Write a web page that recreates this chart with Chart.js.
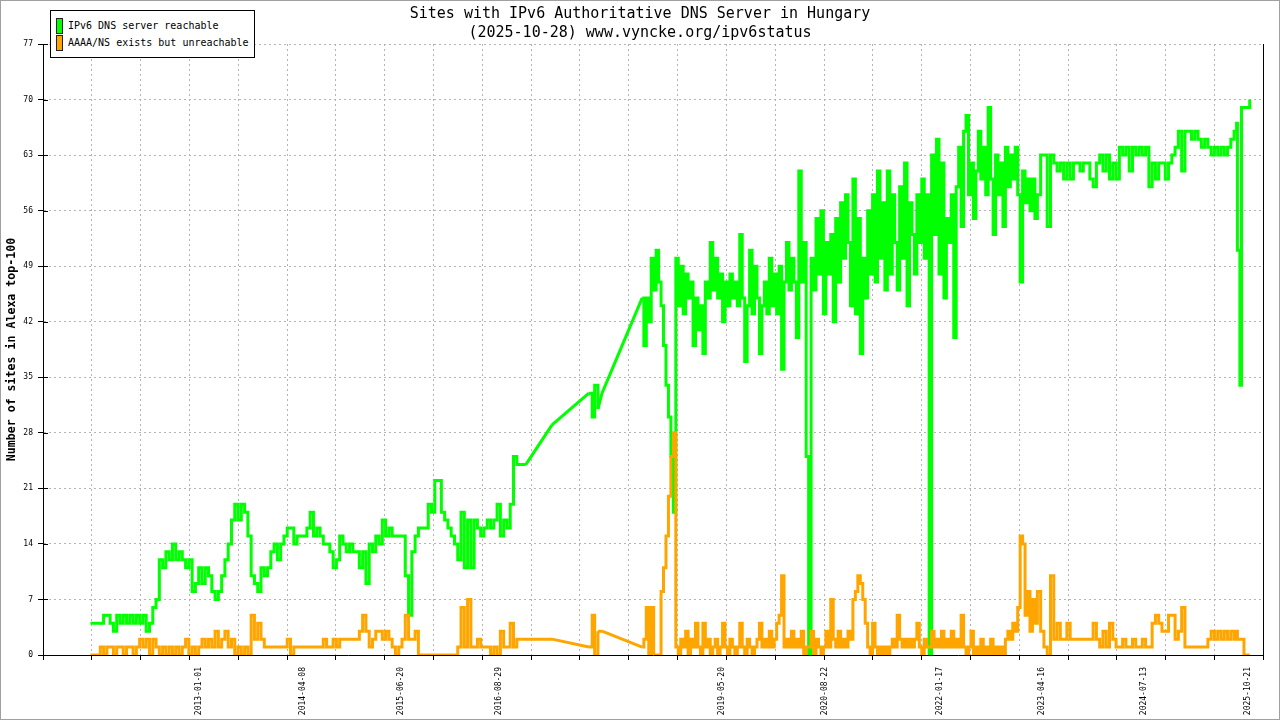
<!DOCTYPE html>
<html>
<head>
<meta charset="utf-8">
<script src="https://cdn.jsdelivr.net/npm/chart.js@4/dist/chart.umd.min.js"></script>
<style>
  body { margin: 0; background: #fff; }
  #wrap { position: relative; width: 1280px; height: 720px; }
  #legend {
    position: absolute; left: 50px; top: 10px; width: 203px; height: 46px;
    border: 1px solid #000; background: #fff;
    font: 10px "DejaVu Sans Mono", monospace; color: #000;
  }
  .item { position: absolute; left: 5px; height: 15px; }
  .swatch { position: absolute; left: 0; top: 0; width: 5px; height: 14px; border: 1px solid #222; }
  .label { position: absolute; left: 12px; top: 1px; line-height: 14px; white-space: nowrap; }
</style>
</head>
<body>
<div id="wrap">
  <canvas id="dnsChart" width="1280" height="720"></canvas>
  <div id="legend"></div>
</div>
<script>
// fecha en años decimales (una muestra cada pocos días)
const years = [
  2011.68,2011.72,2011.76,2011.80,2011.84,2011.88,2011.92,2011.96,2012.00,2012.04,
  2012.08,2012.12,2012.16,2012.20,2012.24,2012.28,2012.32,2012.36,2012.40,2012.44,
  2012.48,2012.52,2012.56,2012.60,2012.64,2012.68,2012.72,2012.76,2012.80,2012.84,
  2012.88,2012.92,2012.96,2013.00,2013.04,2013.08,2013.12,2013.16,2013.20,2013.24,
  2013.28,2013.32,2013.36,2013.40,2013.44,2013.48,2013.52,2013.56,2013.60,2013.64,
  2013.68,2013.72,2013.76,2013.80,2013.84,2013.88,2013.92,2013.96,2014.00,2014.04,
  2014.08,2014.12,2014.16,2014.20,2014.24,2014.28,2014.32,2014.36,2014.40,2014.44,
  2014.48,2014.52,2014.56,2014.60,2014.64,2014.68,2014.72,2014.76,2014.80,2014.84,
  2014.88,2014.92,2014.96,2015.00,2015.04,2015.08,2015.12,2015.16,2015.20,2015.24,
  2015.28,2015.32,2015.36,2015.40,2015.44,2015.48,2015.52,2015.56,2015.60,2015.64,
  2015.68,2015.72,2015.76,2015.80,2015.84,2015.88,2015.92,2015.96,2016.00,2016.04,
  2016.08,2016.12,2016.16,2016.20,2016.24,2016.28,2016.32,2016.36,2016.40,2016.44,
  2016.48,2016.52,2016.56,2016.60,2016.64,2016.68,2016.72,2016.76,2016.80,2016.84,
  2016.88,2016.92,
  2016.99,2017.31,2017.76,2017.80,2017.83,2017.87,2017.92,2018.41,
  2018.43,2018.46,2018.49,2018.52,2018.55,2018.58,2018.61,2018.64,2018.67,2018.70,
  2018.73,2018.76,2018.79,2018.82,2018.85,2018.88,2018.91,2018.94,2018.97,2019.00,
  2019.03,2019.06,2019.09,2019.12,2019.15,2019.18,2019.21,2019.24,2019.27,2019.30,
  2019.33,2019.36,2019.39,2019.42,2019.45,2019.48,2019.51,2019.54,2019.57,2019.60,
  2019.63,2019.66,2019.69,2019.72,2019.75,2019.78,2019.81,2019.84,2019.87,2019.90,
  2019.93,2019.96,2019.99,2020.02,2020.05,2020.08,2020.11,2020.14,2020.17,2020.20,
  2020.23,2020.26,2020.29,2020.32,2020.35,2020.38,2020.41,2020.44,2020.47,2020.50,
  2020.53,2020.56,2020.59,2020.62,2020.65,2020.68,2020.71,2020.74,2020.77,2020.80,
  2020.83,2020.86,2020.89,2020.92,2020.95,2020.98,2021.01,2021.04,2021.07,2021.10,
  2021.13,2021.16,2021.19,2021.22,2021.25,2021.28,2021.31,2021.34,2021.37,2021.40,
  2021.43,2021.46,2021.49,2021.52,2021.55,2021.58,2021.61,2021.64,2021.67,2021.70,
  2021.73,2021.76,2021.79,2021.82,2021.85,2021.88,2021.91,2021.94,2021.97,2022.00,
  2022.03,2022.06,2022.09,2022.12,2022.15,2022.18,2022.21,2022.24,2022.27,2022.30,
  2022.33,2022.36,2022.39,2022.42,2022.45,2022.48,2022.51,2022.54,2022.57,2022.60,
  2022.63,2022.66,2022.69,2022.72,2022.75,2022.78,2022.81,2022.84,2022.87,2022.90,
  2022.93,2022.96,2022.99,2023.02,2023.05,2023.08,2023.11,2023.14,2023.17,2023.20,
  2023.23,
  2023.27,2023.31,2023.35,2023.39,2023.43,2023.47,2023.51,2023.55,2023.59,2023.63,
  2023.67,2023.71,2023.75,2023.79,2023.83,2023.87,2023.91,2023.95,2023.99,2024.03,
  2024.07,2024.11,2024.15,2024.19,2024.23,2024.27,2024.31,2024.35,2024.39,2024.43,
  2024.47,2024.51,2024.55,2024.59,2024.63,2024.67,2024.71,2024.75,2024.79,2024.83,
  2024.87,2024.91,2024.95,2024.99,2025.03,2025.07,2025.11,2025.15,2025.19,2025.23,
  2025.27,2025.31,2025.35,2025.39,2025.43,2025.47,2025.51,2025.55,2025.59,2025.63,
  2025.66,2025.67,2025.70,2025.72,2025.75,2025.78,2025.82
];

// "IPv6 DNS server reachable"
const reachable = [
  4,4,4,4,5,5,4,3,5,4,
  5,4,5,4,5,4,5,3,4,6,
  7,12,11,13,12,14,12,13,12,11,
  12,8,9,11,9,11,10,8,7,8,
  10,12,14,17,19,17,19,18,15,10,
  9,8,11,10,11,13,14,12,14,15,
  16,16,14,15,15,15,16,18,15,16,
  15,14,14,13,11,12,15,14,13,14,
  13,13,11,13,9,14,13,15,14,17,
  15,16,15,15,15,15,10,5,13,15,
  16,16,16,19,18,22,22,18,17,16,
  15,14,12,18,11,17,11,17,16,15,
  16,17,16,17,19,15,17,16,19,25,
  24,24,
  24,29,33,30,34,31,33,45,
  39,45,42,50,46,51,47,44,39,34,
  30,25,18,50,44,49,43,48,45,47,
  39,45,41,44,38,47,45,52,46,50,
  45,48,42,47,44,48,45,47,44,53,
  45,37,44,51,43,49,45,38,44,47,
  43,50,44,48,43,49,36,47,52,46,
  50,47,40,61,47,52,25,0,50,46,
  55,48,56,43,52,48,53,42,55,47,
  57,50,58,52,44,60,43,55,38,50,
  45,56,48,58,47,61,50,57,46,61,
  48,58,52,46,59,50,62,44,57,53,
  48,58,52,60,50,58,0,63,53,65,
  48,62,45,55,52,58,40,59,64,54,
  66,68,58,62,55,61,66,60,64,58,
  69,60,53,63,58,62,54,64,59,63,
  60,64,58,47,61,57,60,56,60,55,
  58,
  63,63,54,63,62,61,62,60,62,60,
  62,62,61,62,62,60,59,62,63,61,
  63,60,62,60,64,63,64,61,64,63,
  64,63,64,59,62,60,62,62,60,62,
  63,64,66,61,66,66,65,66,65,64,
  65,64,63,64,63,64,63,64,65,66,
  67,51,34,69,69,69,70
];

// "AAAA/NS exists but unreachable"
const unreachable = [
  0,0,0,1,0,1,1,0,1,1,
  0,1,1,0,1,2,1,2,0,2,
  1,0,1,0,1,0,1,0,1,2,
  0,1,0,1,2,1,2,1,3,1,
  2,3,1,2,0,1,0,1,0,5,
  2,4,2,1,1,1,1,1,1,1,
  2,0,1,1,1,1,1,1,1,1,
  1,2,1,1,2,1,2,2,2,2,
  2,2,3,5,3,1,2,3,3,2,
  3,2,1,0,1,2,5,2,2,3,
  0,0,0,0,0,0,0,0,0,0,
  0,0,1,6,1,7,1,1,2,1,
  1,1,0,1,0,3,1,1,4,1,
  2,2,
  2,2,1,5,0,3,3,1,
  2,6,0,6,0,0,0,8,11,15,
  20,25,28,1,0,2,1,3,0,2,
  1,4,1,0,4,1,2,0,1,2,
  0,1,4,1,0,2,1,0,1,4,
  1,0,2,1,0,1,2,4,1,2,
  1,3,1,2,4,5,10,1,2,1,
  3,1,2,1,3,0,1,1,3,0,
  2,1,0,1,3,1,7,2,1,3,
  1,2,1,3,2,7,8,10,9,7,
  4,1,0,4,1,0,1,0,1,0,
  1,2,1,5,2,1,2,1,2,1,
  2,4,1,0,2,1,1,3,1,2,
  1,3,1,2,1,3,1,2,1,5,
  1,0,1,3,0,1,0,2,0,1,
  0,2,0,1,0,1,0,2,3,2,
  4,3,6,15,14,5,8,3,7,4,
  8,
  3,1,0,10,2,4,2,2,4,2,
  2,2,2,2,2,2,4,2,1,3,
  1,4,2,1,1,2,1,1,2,1,
  1,2,1,1,4,5,4,3,3,5,
  5,2,3,6,1,1,1,1,1,1,
  1,2,3,2,3,2,3,2,3,2,
  3,2,2,2,0,0,0
];

const tickDates = ['2013-01-01', '2014-04-08', '2015-06-20', '2016-08-29', '2019-05-20',
                   '2020-08-22', '2022-01-17', '2023-04-16', '2024-07-13', '2025-10-21'];

const xMin = 2011.101;
const xMax = 2025.987;
const gridCount = 25;   // divisiones verticales de la rejilla
const yMax = 77;
const yStep = 7;
const maxStep = 0.045;  // más separación que esto = hueco sin medidas (se une con recta)

const GREEN = '#00ff00';
const ORANGE = '#ffa500';
const GRID = '#b4b4b4';
const FONT = '"DejaVu Sans Mono", monospace';

// convierte 'AAAA-MM-DD' en año decimal
function toYear(s) {
    const [y, m, d] = s.split('-').map(Number);
    const start = Date.UTC(y, 0, 1);
    const end = Date.UTC(y + 1, 0, 1);
    return y + (Date.UTC(y, m - 1, d) - start) / (end - start);
}

// parte la serie: tramos diarios (escalonados) y huecos (rectas)
function splitSeries(values) {
    const steps = [];
    const gaps = [];
    values.forEach((v, i) => {
        steps.push({ x: years[i], y: v });
        if (i < values.length - 1 && years[i + 1] - years[i] > maxStep) {
            steps.push({ x: years[i], y: null });
            gaps.push({ x: years[i], y: v }, { x: years[i + 1], y: values[i + 1] }, { x: years[i + 1], y: null });
        }
    });
    return { steps, gaps };
}

// marcas interiores del eje Y y marco exterior gris
const framePlugin = {
    id: 'frame',
    afterDraw(chart) {
        const { ctx, chartArea: a } = chart;
        const yScale = chart.scales.y;
        ctx.save();
        ctx.strokeStyle = '#000';
        ctx.lineWidth = 1;
        ctx.beginPath();
        yScale.ticks.forEach(t => {
            const py = Math.round(yScale.getPixelForValue(t.value)) + 0.5;
            ctx.moveTo(a.left, py);
            ctx.lineTo(a.left + 5, py);
        });
        ctx.stroke();
        ctx.strokeStyle = '#a0a0a0';
        ctx.strokeRect(0.5, 0.5, chart.width - 1, chart.height - 1);
        ctx.restore();
    }
};

const series = [
    { label: 'IPv6 DNS server reachable', values: reachable, color: GREEN, order: 1 },
    { label: 'AAAA/NS exists but unreachable', values: unreachable, color: ORANGE, order: 0 }
];

const datasets = [];
series.forEach(s => {
    const parts = splitSeries(s.values);
    datasets.push({
        label: s.label,
        data: parts.steps,
        stepped: true,
        borderColor: s.color,
        backgroundColor: s.color,
        borderWidth: 3,
        borderJoinStyle: 'miter',
        pointRadius: 0,
        order: s.order
    });
    datasets.push({
        label: s.label + ' (hueco)',
        data: parts.gaps,
        borderColor: s.color,
        backgroundColor: s.color,
        borderWidth: 3,
        borderJoinStyle: 'round',
        pointRadius: 0,
        order: s.order
    });
});

const ctx = document.getElementById('dnsChart').getContext('2d');
const chart = new Chart(ctx, {
    type: 'line',
    data: { datasets: datasets },
    options: {
        responsive: false,
        animation: false,
        devicePixelRatio: 1,
        events: [],
        layout: { padding: 0 },
        plugins: {
            legend: { display: false },
            tooltip: { enabled: false },
            title: {
                display: true,
                text: ['Sites with IPv6 Authoritative DNS Server in Hungary',
                       '(2025-10-28) www.vyncke.org/ipv6status'],
                color: '#000',
                font: { family: FONT, size: 15, weight: 'normal', lineHeight: 1.25 },
                padding: { top: 5, bottom: 1.5 }
            }
        },
        scales: {
            x: {
                type: 'linear',
                min: xMin,
                max: xMax,
                afterFit: scale => { scale.height = 65; },
                afterBuildTicks: scale => {
                    const step = (xMax - xMin) / gridCount;
                    const ticks = [];
                    for (let i = 0; i <= gridCount; i++) {
                        ticks.push({ value: xMin + i * step, isGrid: true, text: '' });
                    }
                    tickDates.forEach(d => ticks.push({ value: toYear(d), isGrid: false, text: d }));
                    ticks.sort((p, q) => p.value - q.value);
                    scale.ticks = ticks;
                },
                ticks: {
                    autoSkip: false,
                    maxRotation: 90,
                    minRotation: 90,
                    padding: 7,
                    color: '#000',
                    font: { family: FONT, size: 8 },
                    callback: (value, index, ticks) => ticks[index].text || ''
                },
                grid: {
                    color: c => (c.tick && c.tick.isGrid) ? GRID : 'rgba(0,0,0,0)',
                    tickColor: c => (c.tick && c.tick.isGrid) ? '#000' : 'rgba(0,0,0,0)',
                    tickLength: 5,
                    tickBorderDash: [],
                    lineWidth: 1
                },
                border: { display: true, color: '#000', width: 1, dash: [2, 3] }
            },
            y: {
                min: 0,
                max: yMax,
                afterFit: scale => { scale.width = 43; },
                ticks: {
                    stepSize: yStep,
                    padding: 5,
                    color: '#000',
                    font: { family: FONT, size: 8 }
                },
                grid: {
                    color: GRID,
                    tickColor: '#000',
                    tickLength: 5,
                    tickBorderDash: [],
                    lineWidth: 1
                },
                border: { display: true, color: '#000', width: 1, dash: [2, 3] },
                title: {
                    display: true,
                    text: 'Number of sites in Alexa top-100',
                    color: '#000',
                    font: { family: FONT, size: 11.6, weight: 'bold', lineHeight: 1.2 },
                    padding: { top: 5, bottom: 0 }
                }
            },
            // eje derecho sin marcas: sólo dibuja el borde del área
            yRight: {
                position: 'right',
                display: true,
                min: 0,
                max: yMax,
                afterFit: scale => { scale.width = 14.7; },
                ticks: { display: false },
                grid: { drawOnChartArea: false, drawTicks: false },
                border: { display: true, color: '#000', width: 1 }
            }
        }
    },
    plugins: [framePlugin]
});

// leyenda en recuadro, arriba a la izquierda
const legendBox = document.getElementById('legend');
series.forEach((s, i) => {
    const item = document.createElement('div');
    item.className = 'item';
    item.style.top = (7 + i * 17) + 'px';
    item.innerHTML = '<span class="swatch" style="background:' + s.color + '"></span>' +
                     '<span class="label">' + s.label + '</span>';
    legendBox.appendChild(item);
});
</script>
</body>
</html>
